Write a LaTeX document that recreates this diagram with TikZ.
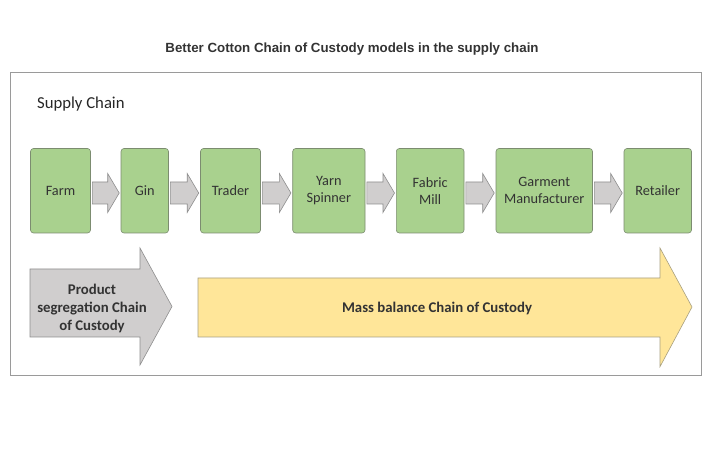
\documentclass[tikz,border=0pt]{standalone}
\usepackage{fontspec}
\setmainfont{Carlito}
\newfontfamily\arialfont{Liberation Sans}
\usetikzlibrary{calc}
\definecolor{boxfill}{HTML}{A9D18E}
\definecolor{boxline}{HTML}{7C8C70}
\definecolor{txt}{HTML}{333333}
\definecolor{arrfill}{HTML}{D0CECE}
\definecolor{arrline}{HTML}{8E8E8E}
\definecolor{yelfill}{HTML}{FFE699}
\definecolor{yelline}{HTML}{A8A080}
\definecolor{frameline}{HTML}{9A9A9A}
\tikzset{
  stagebox/.style={draw=boxline, fill=boxfill, rounded corners=3pt, line width=0.6pt,
    minimum height=84.5pt, inner sep=0pt, align=center, text=txt,
    font=\fontsize{14.3}{17}\selectfont},
  smallarrow/.style={draw=arrline, fill=arrfill, line width=0.6pt},
  bigarrow/.style={line width=0.6pt},
  bigtext/.style={font=\bfseries\fontsize{14.8}{18}\selectfont, text=txt, align=center}
}
\newcommand\chainarrow[2]{%
  \path[smallarrow] let \p1=(#1.east), \p2=(#2.west), \n1={\y1-2.25} in
  (\x1+1.5pt,\n1+11) -- (\x2-13pt,\n1+11) -- (\x2-13pt,\n1+19.5) -- (\x2-1.5pt,\n1)
  -- (\x2-13pt,\n1-19.5) -- (\x2-13pt,\n1-11) -- (\x1+1.5pt,\n1-11) -- cycle;}
\begin{document}
\begin{tikzpicture}[x=1pt,y=1pt]
\useasboundingbox[fill=white] (0,0) rectangle (710,450);
% title
\node[font=\arialfont\bfseries\fontsize{13.3}{15}\selectfont, text=txt] (title) at (352,401) {Better Cotton Chain of Custody models in the supply chain};
% frame
\draw[draw=frameline, line width=1pt] (10,74) rectangle (701,377);
\node[anchor=west, font=\fontsize{16.7}{19}\selectfont, text=black!85, inner sep=0pt] (sc) at (37,346) {Supply Chain};
% stages
\node[stagebox, minimum width=60pt] (farm) at (60.5,259.25) {Farm};
\node[stagebox, minimum width=47.5pt] (gin) at (144.75,259.25) {Gin};
\node[stagebox, minimum width=60pt] (trader) at (230.5,259.25) {Trader};
\node[stagebox, minimum width=72.3pt] (yarn) at (328.85,259.25) {Yarn\\Spinner};
\node[stagebox, minimum width=67.7pt] (fabric) at (430.15,259.25) {Fabric\\Mill};
\node[stagebox, minimum width=96.5pt] (garment) at (544.25,259.25) {Garment\\Manufacturer};
\node[stagebox, minimum width=67.5pt] (retail) at (657.75,259.25) {Retailer};
\chainarrow{farm}{gin}
\chainarrow{gin}{trader}
\chainarrow{trader}{yarn}
\chainarrow{yarn}{fabric}
\chainarrow{fabric}{garment}
\chainarrow{garment}{retail}
% big arrows
\draw[bigarrow, draw=arrline, fill=arrfill] (30,181) -- (140,181) -- (140,202) -- (172,143.5) -- (140,85) -- (140,113) -- (30,113) -- cycle;
\node[bigtext] (seg) at (92,142) {Product\\segregation Chain\\of Custody};
\draw[bigarrow, draw=yelline, fill=yelfill] (198,172) -- (660,172) -- (660,202) -- (692,143) -- (660,83.3) -- (660,113) -- (198,113) -- cycle;
\node[bigtext] (mass) at (437,142) {Mass balance Chain of Custody};
\end{tikzpicture}
\end{document}
